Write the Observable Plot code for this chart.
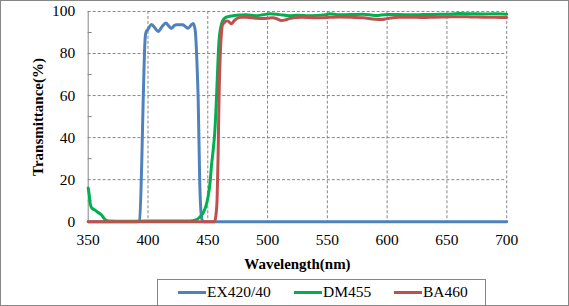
<!DOCTYPE html>
<html>
<head>
<meta charset="utf-8">
<script src="https://cdn.jsdelivr.net/npm/d3@7"></script>
<script src="https://cdn.jsdelivr.net/npm/@observablehq/plot@0.6"></script>
<style>
  body { margin: 0; background: #fff; }
  #wrap { position: relative; width: 569px; height: 306px; box-sizing: border-box; border: 1px solid #868686; overflow: hidden; background: #fff; }
  #wrap svg { position: absolute; left: -1px; top: -1px; }
  #wrap svg, #wrap svg text { font-family: "Liberation Serif", "Times New Roman", serif !important; }
  #wrap svg g[aria-label="y-axis tick label"] text, #wrap svg g[aria-label="x-axis tick label"] text { font-size: 15.5px; }
  #wrap svg g[aria-label="x-axis label"] text, #wrap svg g[aria-label="x-axis label"] { font-weight: bold; font-size: 15px; }
  #ytitle { position: absolute; width: 140px; height: 18px; text-align: center; transform-origin: 50% 50%; white-space: nowrap;
    font-family: "Liberation Serif", "Times New Roman", serif; font-weight: bold; font-size: 15px; color: #000; line-height: 18px; }
  #legend { position: absolute; left: 156px; top: 278px; width: 329px; height: 40px; box-sizing: border-box; border: 1px solid #868686; background: #fff;
    font-family: "Liberation Serif", "Times New Roman", serif; font-size: 15.5px; color: #000; }
  .item { position: absolute; top: 3px; display: flex; align-items: center; white-space: nowrap; }
  .sw { display: inline-block; width: 28px; height: 3px; margin-right: 1px; }
</style>
</head>
<body>
<div id="wrap"></div>
<script>
// Series names and colours
const seriesNames = ["EX420/40", "DM455", "BA460"];
const seriesColors = ["#4F81BD", "#00B050", "#C0504D"];

// EX420/40 (blue)
const exWl = [350, 390, 393, 394.7, 396, 397.5, 398.3, 400, 403, 406, 408.6, 412, 415, 417.5, 419.7, 422, 424, 429, 431, 433.6, 436, 437.8, 439.5, 441, 442, 443.3, 444.7, 446, 450, 700];
const exT  = [0, 0, 0.5, 26, 58, 86, 90, 91.5, 93.8, 92, 90.5, 93, 94.5, 93, 92, 93.3, 93.7, 93.7, 93, 92, 93.5, 94.3, 91, 75, 57.8, 18.5, 2.5, 0, 0, 0];

// DM455 (green)
const dmWl = [350, 350.8, 351.7, 353, 355.8, 358, 361, 363, 364.5, 367, 380, 400, 420, 435, 440, 443, 446, 448.5, 450.3, 452, 453, 454.5, 455.8, 457, 457.8, 459.4, 461.4, 463.5, 465.6, 470, 474, 482, 490, 496, 502, 510, 518, 525, 535, 549, 552, 560, 570, 580, 590, 600, 610, 620, 630, 640, 650, 660, 670, 680, 690, 700];
const dmT  = [16, 13, 8.5, 6.5, 5.5, 4.5, 3.3, 1.8, 0.8, 0.3, 0.2, 0.3, 0.3, 0.3, 0.8, 2, 4, 7.5, 12, 19, 26, 34, 42, 55, 66, 86, 93.8, 96.5, 97.3, 97.8, 98.2, 98.4, 98, 98.4, 98.9, 98.5, 98, 98.2, 98, 98.5, 98.9, 98.4, 98.5, 98.7, 98.1, 98.6, 98.5, 98.4, 98.5, 98.6, 98.7, 99, 98.9, 98.8, 98.9, 98.7];

// BA460 (red)
const baWl = [350, 455.8, 456.8, 457.8, 458.6, 459.4, 460.6, 461.5, 462.2, 463.5, 465.5, 467, 469.7, 472, 474, 478, 482, 490, 496, 504, 508, 511.4, 515, 518, 529, 540, 552, 560, 570, 580, 590, 595, 600, 610, 620, 630, 640, 650, 660, 670, 680, 690, 700];
const baT  = [0, 0, 3, 10.4, 30, 58, 81.5, 90, 93.4, 94.5, 95.5, 95.4, 94.2, 95.5, 96.5, 97.2, 97.2, 96.8, 96.6, 97, 96.5, 95.7, 96, 96.6, 97.3, 97, 97.2, 97.4, 97.3, 97, 96.3, 96.2, 96.6, 97.2, 97.3, 97.1, 97.3, 97.4, 97.5, 97.4, 97.3, 97.2, 97.1];

// Axis ticks and titles
const xTicks = [350, 400, 450, 500, 550, 600, 650, 700];
const xGrid = [400, 450, 500, 550, 600, 650, 700];
const yTicks = [0, 20, 40, 60, 80, 100];
const yGrid = [20, 40, 60, 80, 100];
const yMinor = [10, 30, 50, 70, 90];
const xTitle = "Wavelength(nm)";
const yTitle = "Transmittance(%)";

const toRows = (name, wl, t) => wl.map((w, i) => ({series: name, wl: w, t: t[i]}));
const rows = [
  ...toRows(seriesNames[0], exWl, exT),
  ...toRows(seriesNames[1], dmWl, dmT),
  ...toRows(seriesNames[2], baWl, baT)
];

const chart = Plot.plot({
  width: 569,
  height: 306,
  marginLeft: 88,
  marginRight: 61,
  marginTop: 11,
  marginBottom: 84,
  style: {fontSize: "15.5px", color: "#000", background: "transparent"},
  x: {domain: [350, 700]},
  y: {domain: [0, 100]},
  color: {domain: seriesNames, range: seriesColors},
  marks: [
    Plot.gridY(yGrid, {stroke: "#868686", strokeOpacity: 1, strokeDasharray: "3,2"}),
    Plot.gridX(xGrid, {stroke: "#868686", strokeOpacity: 1, strokeDasharray: "3,2"}),
    Plot.ruleX([350], {stroke: "#868686", strokeWidth: 1}),
    Plot.axisY(yMinor, {tickSize: -4, tickFormat: () => "", stroke: "#868686", label: null}),
    Plot.axisY(yTicks, {tickSize: 0, tickPadding: 13, label: null}),
    Plot.axisX(xTicks, {tickSize: 0, tickPadding: 12, label: xTitle, labelAnchor: "center", labelArrow: "none", labelOffset: 47}),
    Plot.line(rows, {x: "wl", y: "t", z: "series", stroke: "series", strokeWidth: 3, curve: "monotone-x"})
  ]
});

const wrap = document.getElementById("wrap");
wrap.appendChild(chart);

// y-axis title centred on the middle of the y scale (value 50)
const yScale = chart.scale("y");
const yMid = (yScale.range[0] + yScale.range[1]) / 2;
const yt = document.createElement("div");
yt.id = "ytitle";
yt.textContent = yTitle;
// box is 140x18; centre it at (38, yMid) in page coords (wrap has a 1px border)
yt.style.left = (38 - 1 - 70) + "px";
yt.style.top = (yMid - 1 - 9) + "px";
yt.style.transform = "rotate(-90deg)";
wrap.appendChild(yt);

const legend = document.createElement("div");
legend.id = "legend";
const lefts = [20, 136, 236];
seriesNames.forEach((n, i) => {
  const it = document.createElement("div");
  it.className = "item";
  it.style.left = lefts[i] + "px";
  const sw = document.createElement("span");
  sw.className = "sw";
  sw.style.background = seriesColors[i];
  const tx = document.createElement("span");
  tx.textContent = n;
  it.appendChild(sw);
  it.appendChild(tx);
  legend.appendChild(it);
});
wrap.appendChild(legend);
</script>
</body>
</html>
